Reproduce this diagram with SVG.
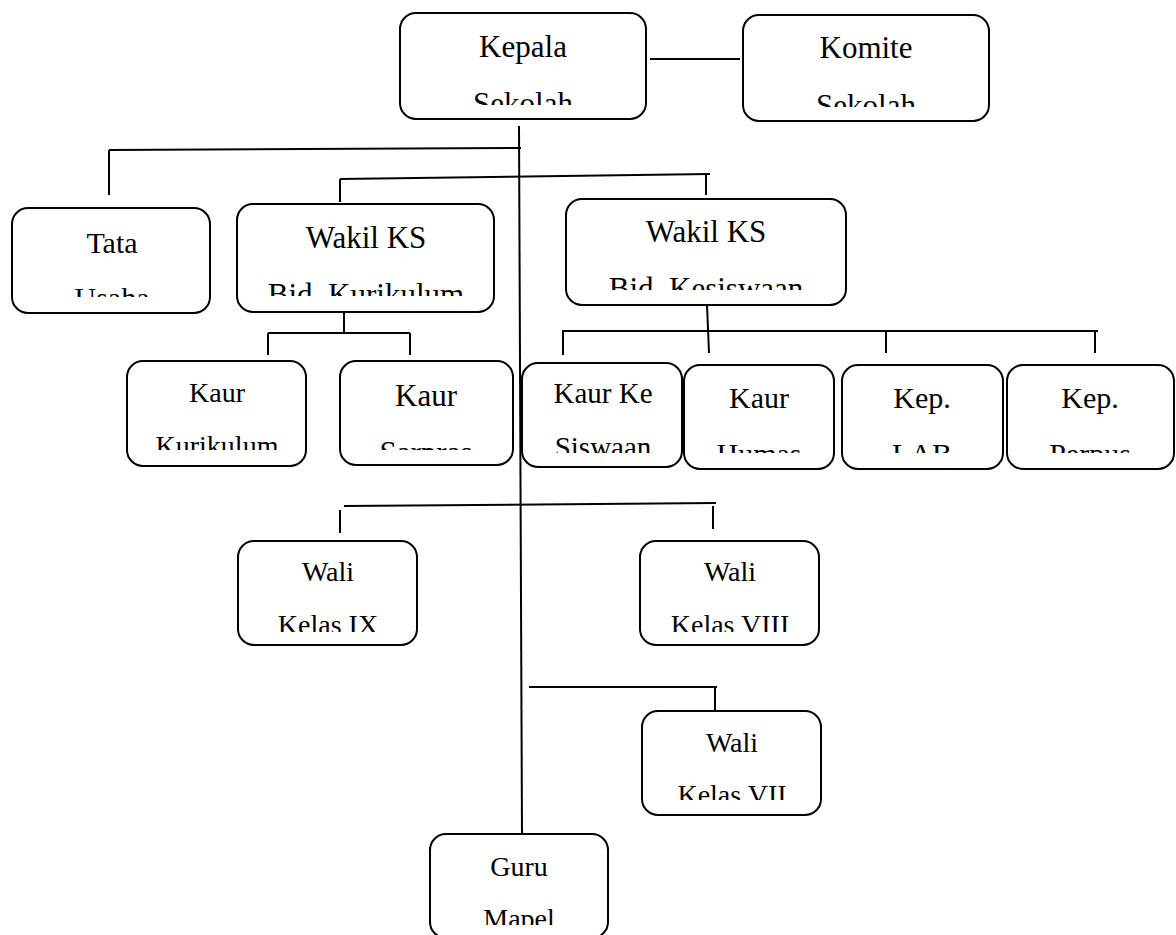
<svg xmlns="http://www.w3.org/2000/svg" width="1176" height="935" viewBox="0 0 1176 935">
<style>
.box{fill:#fff;stroke:#000;stroke-width:2}
.ln{stroke:#000;stroke-width:2;fill:none}
text{font-family:"Liberation Serif","Times New Roman",serif;fill:#000;text-anchor:middle}
</style>
<defs>
<clipPath id="c-kepala"><rect x="400" y="13" width="246" height="92"/></clipPath>
<clipPath id="c-komite"><rect x="743" y="15" width="246" height="92"/></clipPath>
<clipPath id="c-tata"><rect x="12" y="208" width="198" height="89"/></clipPath>
<clipPath id="c-wkur"><rect x="237" y="204" width="257" height="92"/></clipPath>
<clipPath id="c-wkes"><rect x="566" y="199" width="280" height="91"/></clipPath>
<clipPath id="c-kkur"><rect x="127" y="361" width="179" height="89"/></clipPath>
<clipPath id="c-ksar"><rect x="340" y="361" width="173" height="89"/></clipPath>
<clipPath id="c-kkes"><rect x="522" y="363" width="160" height="90"/></clipPath>
<clipPath id="c-khum"><rect x="684" y="365" width="150" height="88"/></clipPath>
<clipPath id="c-klab"><rect x="842" y="365" width="161" height="88"/></clipPath>
<clipPath id="c-kper"><rect x="1007" y="365" width="167" height="88"/></clipPath>
<clipPath id="c-w9"><rect x="238" y="541" width="179" height="91"/></clipPath>
<clipPath id="c-w8"><rect x="640" y="541" width="179" height="91"/></clipPath>
<clipPath id="c-w7"><rect x="642" y="711" width="179" height="89"/></clipPath>
<clipPath id="c-guru"><rect x="430" y="834" width="178" height="91"/></clipPath>
</defs>

<g id="connectors">
<line class="ln" x1="650" y1="59" x2="740" y2="59"/>
<line class="ln" x1="519" y1="126" x2="522" y2="834"/>
<line class="ln" x1="109" y1="150" x2="521" y2="148"/>
<line class="ln" x1="109" y1="150" x2="109" y2="195"/>
<line class="ln" x1="340" y1="179" x2="710" y2="174"/>
<line class="ln" x1="340" y1="179" x2="340" y2="202"/>
<line class="ln" x1="706" y1="174" x2="706" y2="195"/>
<line class="ln" x1="344" y1="312" x2="344" y2="333"/>
<line class="ln" x1="268" y1="333" x2="410" y2="333"/>
<line class="ln" x1="268" y1="333" x2="268" y2="355"/>
<line class="ln" x1="410" y1="333" x2="410" y2="355"/>
<line class="ln" x1="707" y1="305" x2="709" y2="353"/>
<line class="ln" x1="562" y1="331" x2="1098" y2="331"/>
<line class="ln" x1="563" y1="331" x2="563" y2="355"/>
<line class="ln" x1="886" y1="331" x2="886" y2="353"/>
<line class="ln" x1="1095" y1="331" x2="1095" y2="353"/>
<line class="ln" x1="344" y1="506" x2="716" y2="503"/>
<line class="ln" x1="340" y1="510" x2="340" y2="533"/>
<line class="ln" x1="713" y1="506" x2="713" y2="529"/>
<line class="ln" x1="529" y1="687" x2="717" y2="687"/>
<line class="ln" x1="715" y1="687" x2="715" y2="710"/>
</g>

<g id="kepala-sekolah">
<rect class="box" x="400" y="13" width="246" height="106" rx="16"/>
<g clip-path="url(#c-kepala)" font-size="31"><text x="523" y="57">Kepala</text><text x="523" y="114">Sekolah</text></g>
</g>
<g id="komite-sekolah">
<rect class="box" x="743" y="15" width="246" height="106" rx="16"/>
<g clip-path="url(#c-komite)" font-size="31"><text x="866" y="58">Komite</text><text x="866" y="116">Sekolah</text></g>
</g>
<g id="tata-usaha">
<rect class="box" x="12" y="208" width="198" height="105" rx="16"/>
<g clip-path="url(#c-tata)" font-size="30"><text x="112" y="253">Tata</text><text x="112" y="308">Usaha</text></g>
</g>
<g id="wakil-kurikulum">
<rect class="box" x="237" y="204" width="257" height="108" rx="16"/>
<g clip-path="url(#c-wkur)" font-size="31"><text x="366" y="248">Wakil KS</text><text x="366" y="305">Bid. Kurikulum</text></g>
</g>
<g id="wakil-kesiswaan">
<rect class="box" x="566" y="199" width="280" height="106" rx="16"/>
<g clip-path="url(#c-wkes)" font-size="31"><text x="706" y="242">Wakil KS</text><text x="706" y="299">Bid. Kesiswaan</text></g>
</g>
<g id="kaur-kurikulum">
<rect class="box" x="127" y="361" width="179" height="105" rx="16"/>
<g clip-path="url(#c-kkur)" font-size="28"><text x="217" y="402">Kaur</text><text x="217" y="455">Kurikulum</text></g>
</g>
<g id="kaur-sarpras">
<rect class="box" x="340" y="361" width="173" height="104" rx="16"/>
<g clip-path="url(#c-ksar)" font-size="31"><text x="426" y="406">Kaur</text><text x="426" y="463">Sarpras</text></g>
</g>
<g id="kaur-kesiswaan">
<rect class="box" x="522" y="363" width="160" height="104" rx="16"/>
<g clip-path="url(#c-kkes)" font-size="29"><text x="603" y="403">Kaur Ke</text><text x="603" y="457">Siswaan</text></g>
</g>
<g id="kaur-humas">
<rect class="box" x="684" y="365" width="150" height="104" rx="16"/>
<g clip-path="url(#c-khum)" font-size="30"><text x="759" y="408">Kaur</text><text x="759" y="464">Humas</text></g>
</g>
<g id="kep-lab">
<rect class="box" x="842" y="365" width="161" height="104" rx="16"/>
<g clip-path="url(#c-klab)" font-size="30"><text x="922" y="408">Kep.</text><text x="922" y="464">LAB</text></g>
</g>
<g id="kep-perpus">
<rect class="box" x="1007" y="365" width="167" height="104" rx="16"/>
<g clip-path="url(#c-kper)" font-size="30"><text x="1090" y="408">Kep.</text><text x="1090" y="464">Perpus</text></g>
</g>
<g id="wali-kelas-ix">
<rect class="box" x="238" y="541" width="179" height="104" rx="16"/>
<g clip-path="url(#c-w9)" font-size="28"><text x="328" y="581">Wali</text><text x="328" y="634">Kelas IX</text></g>
</g>
<g id="wali-kelas-viii">
<rect class="box" x="640" y="541" width="179" height="104" rx="16"/>
<g clip-path="url(#c-w8)" font-size="28"><text x="730" y="581">Wali</text><text x="730" y="634">Kelas VIII</text></g>
</g>
<g id="wali-kelas-vii">
<rect class="box" x="642" y="711" width="179" height="104" rx="16"/>
<g clip-path="url(#c-w7)" font-size="28"><text x="732" y="752">Wali</text><text x="732" y="804">Kelas VII</text></g>
</g>
<g id="guru-mapel">
<rect class="box" x="430" y="834" width="178" height="104" rx="16"/>
<g clip-path="url(#c-guru)" font-size="28"><text x="519" y="876">Guru</text><text x="519" y="928">Mapel</text></g>
</g>
</svg>
